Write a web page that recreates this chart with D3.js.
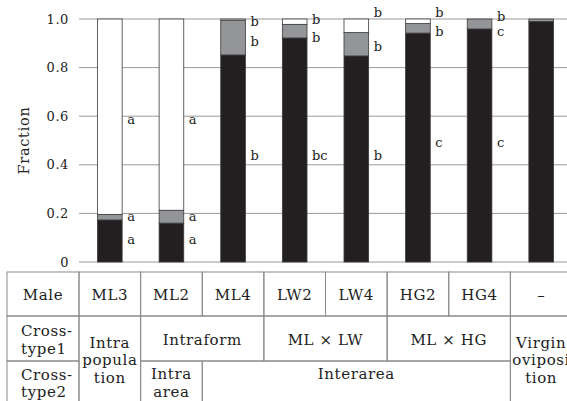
<!DOCTYPE html>
<html>
<head>
<meta charset="utf-8">
<script src="https://cdn.jsdelivr.net/npm/d3@7"></script>
<style>
  body { margin: 0; background: #fff; }
  text { font-family: "DejaVu Serif", serif; fill: #222; }
</style>
</head>
<body>
<div id="chart"></div>
<script>
// bar data: fractions of each stacked segment
const males = ["ML3", "ML2", "ML4", "LW2", "LW4", "HG2", "HG4", "–"];
const blackVals = [0.173, 0.160, 0.852, 0.922, 0.848, 0.942, 0.959, 0.990];
const grayVals = [0.023, 0.053, 0.143, 0.056, 0.096, 0.039, 0.041, 0.010];
const yTicks = [0, 0.2, 0.4, 0.6, 0.8, 1.0];
const yTickLabels = ["0", "0.2", "0.4", "0.6", "0.8", "1.0"];

// significance letters and where they sit (in fraction units)
const whiteLetters = ["a", "a", "b", "b", "b", "b", "b", ""];
const whiteLetterY = [0.588, 0.588, 0.988, 1.0, 1.025, 1.025, 1.012, 0];
const grayLetters = ["a", "a", "b", "b", "b", "b", "c", ""];
const grayLetterY = [0.189, 0.189, 0.909, 0.926, 0.885, 0.947, 0.947, 0];
const blackLetters = ["a", "a", "b", "bc", "b", "c", "c", ""];
const blackLetterY = [0.091, 0.091, 0.44, 0.44, 0.44, 0.49, 0.49, 0];

// table below the chart
const rowLabels = [["Male"], ["Cross-", "type1"], ["Cross-", "type2"]];
const crossType1 = [
  {lines: ["Intra", "popula", "tion"], col: 0, span: 1, row: 1, rows: 2},
  {lines: ["Intraform"], col: 1, span: 2, row: 1, rows: 1},
  {lines: ["ML × LW"], col: 3, span: 2, row: 1, rows: 1},
  {lines: ["ML × HG"], col: 5, span: 2, row: 1, rows: 1},
  {lines: ["Virgin", "oviposi", "tion"], col: 7, span: 1, row: 1, rows: 2}
];
const crossType2 = [
  {lines: ["Intra", "area"], col: 1, span: 1, row: 2, rows: 1},
  {lines: ["Interarea"], col: 2, span: 5, row: 2, rows: 1}
];

const W = 567, H = 401;
const plotLeft = 79, plotRight = 572, plotTop = 19, plotBottom = 262;

const svg = d3.select("#chart").append("svg")
  .attr("width", W).attr("height", H);

const y = d3.scaleLinear().domain([0, 1]).range([plotBottom, plotTop]);
const col = d3.scaleBand().domain(d3.range(males.length)).range([plotLeft, plotRight]).padding(0);
const x = d3.scaleBand().domain(d3.range(males.length)).range([plotLeft, plotRight])
  .paddingInner(0.6).paddingOuter(0.3);

// gridlines
svg.append("g").selectAll("line").data(yTicks).join("line")
  .attr("x1", plotLeft).attr("x2", W)
  .attr("y1", d => y(d)).attr("y2", d => y(d))
  .attr("stroke", "#9a9a9a").attr("stroke-width", 1);

// tick labels
svg.append("g").selectAll("text").data(yTicks).join("text")
  .attr("x", 69).attr("y", d => y(d))
  .attr("dy", "0.35em")
  .attr("text-anchor", "end")
  .style("font-size", "13px").style("letter-spacing", "0.6px")
  .text((d, i) => yTickLabels[i]);

// y axis title
svg.append("text")
  .attr("transform", "translate(29," + (plotTop + plotBottom) / 2 + ") rotate(-90)")
  .attr("text-anchor", "middle")
  .style("font-size", "14.5px").style("letter-spacing", "0.7px")
  .text("Fraction");

// stacked bars
const segs = [];
males.forEach((m, i) => {
  const b = blackVals[i], g = grayVals[i];
  segs.push({i: i, y0: 0, y1: b, fill: "#231f20"});
  segs.push({i: i, y0: b, y1: b + g, fill: "#939598"});
  if (1 - b - g > 0.001) segs.push({i: i, y0: b + g, y1: 1, fill: "#ffffff"});
});
svg.append("g").selectAll("rect").data(segs).join("rect")
  .attr("x", d => x(d.i))
  .attr("width", x.bandwidth())
  .attr("y", d => y(d.y1))
  .attr("height", d => y(d.y0) - y(d.y1))
  .attr("fill", d => d.fill)
  .attr("stroke", "#3a3a3a").attr("stroke-width", 0.8);

// letters next to bars
const letters = [];
males.forEach((m, i) => {
  letters.push({i: i, t: whiteLetters[i], v: whiteLetterY[i]});
  letters.push({i: i, t: grayLetters[i], v: grayLetterY[i]});
  letters.push({i: i, t: blackLetters[i], v: blackLetterY[i]});
});
svg.append("g").selectAll("text").data(letters.filter(d => d.t)).join("text")
  .attr("x", d => x(d.i) + x.bandwidth() + 5)
  .attr("y", d => y(d.v))
  .attr("dy", "0.35em")
  .style("font-size", "13px")
  .text(d => d.t);

// table
const rowY = [272, 316, 361, 406];
const labelX0 = 7;
const tbl = svg.append("g");
const lineColor = "#8a8a8a";

function cell(x0, x1, r0, r1) {
  tbl.append("rect")
    .attr("x", x0).attr("y", rowY[r0])
    .attr("width", x1 - x0).attr("height", rowY[r1] - rowY[r0])
    .attr("fill", "none").attr("stroke", lineColor).attr("stroke-width", 1);
}

function cellText(lines, cx, cy, anchor) {
  const lh = 17.5;
  const t = tbl.append("text")
    .attr("text-anchor", anchor)
    .style("font-size", "15px").style("letter-spacing", "0.6px");
  lines.forEach((s, k) => {
    t.append("tspan").attr("x", cx)
      .attr("y", cy + (k - (lines.length - 1) / 2) * lh)
      .attr("dy", "0.35em").text(s);
  });
}

// row label column
rowLabels.forEach((lines, r) => {
  cell(labelX0, plotLeft, r, r + 1);
  if (r === 0) cellText(lines, (labelX0 + plotLeft) / 2, (rowY[0] + rowY[1]) / 2 + 1, "middle");
  else if (r === 1) cellText(lines, 21, (rowY[1] + rowY[2]) / 2 + 1, "start");
  else cellText(lines, 21, 383, "start");
});

// male row
males.forEach((m, i) => {
  cell(col(i), col(i) + col.bandwidth(), 0, 1);
  cellText([m], col(i) + col.bandwidth() / 2, (rowY[0] + rowY[1]) / 2 + 1, "middle");
});

crossType1.concat(crossType2).forEach(c => {
  const x0 = col(c.col), x1 = col(c.col) + c.span * col.bandwidth();
  cell(x0, x1, c.row, c.row + c.rows);
  let cy;
  if (c.rows === 2) cy = 360;
  else if (c.row === 1) cy = (rowY[1] + rowY[2]) / 2 + 1;
  else cy = 374 + (c.lines.length - 1) * 17.5 / 2;
  cellText(c.lines, (x0 + x1) / 2, cy, "middle");
});
</script>
</body>
</html>
